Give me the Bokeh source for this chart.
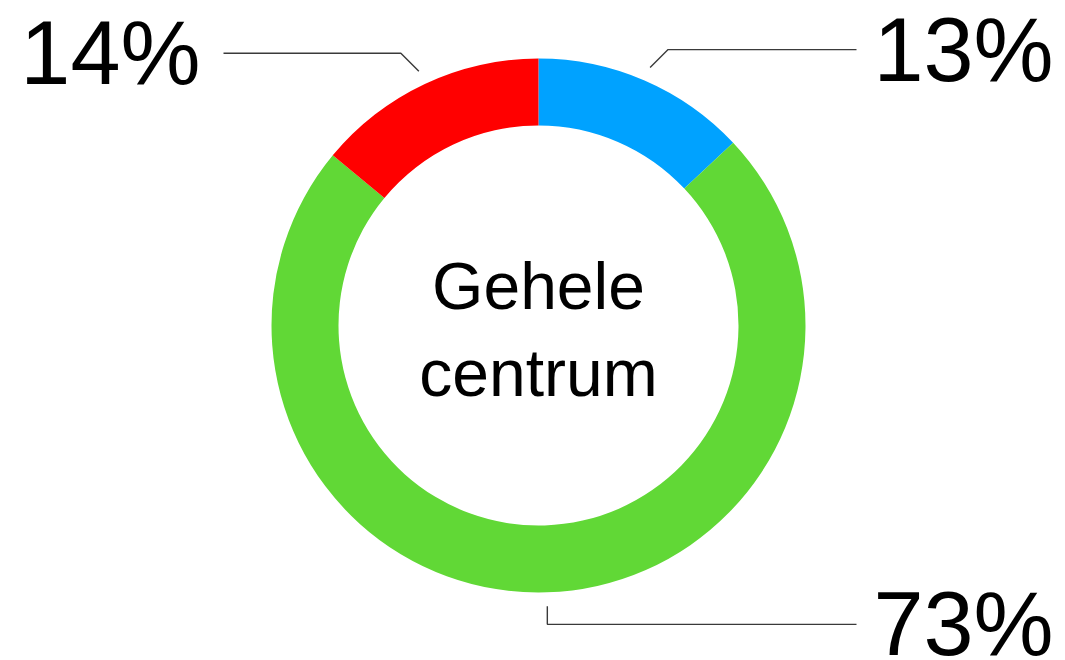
import math
from bokeh.plotting import figure
from bokeh.models import ColumnDataSource
from bokeh.core.properties import value
from bokeh.embed import file_html
from bokeh.resources import INLINE

# ---- data ----
segments = ["Blauw", "Groen", "Rood"]
percentages = [13, 73, 14]
colors = ["#00A2FF", "#61D836", "#FF0000"]
center_lines = ["Gehele", "centrum"]

# ---- layout ----
W, H = 1065, 660
cx, cy = 538, 335
r_in, r_out = 200, 267
r_lead = 281
FONT = "Liberation Sans"

p = figure(width=W, height=H, x_range=(0, W), y_range=(0, H),
           output_backend="svg", toolbar_location=None, min_border=0)
p.axis.visible = False
p.grid.visible = False
p.outline_line_color = None
p.background_fill_color = "white"
p.border_fill_color = "white"

total = sum(percentages)
starts, ends, mids = [], [], []
acc = 0.0
for v in percentages:
    f0 = acc / total
    acc += v
    f1 = acc / total
    starts.append(math.pi / 2 - 2 * math.pi * f0)
    ends.append(math.pi / 2 - 2 * math.pi * f1)
    mids.append((f0 + f1) / 2 * 2 * math.pi)  # clockwise from top

src = ColumnDataSource(dict(x=[cx] * len(percentages), y=[cy] * len(percentages),
                            s=starts, e=ends, c=colors))
p.annular_wedge(x="x", y="y", inner_radius=r_in, outer_radius=r_out,
                start_angle="s", end_angle="e", direction="clock",
                fill_color="c", line_color=None, source=src)

# leaders and labels
for v, m in zip(percentages, mids):
    sx = cx + r_lead * math.sin(m)
    sy = cy + r_lead * math.cos(m)
    dxs = 0 if abs(math.sin(m)) < 0.1 else (1 if math.sin(m) > 0 else -1)
    dys = 1 if math.cos(m) > 0 else -1
    ex = sx + 18 * dxs
    ey = sy + 18 * dys
    right = math.sin(m) >= 0
    hx = 856 if right else 223
    p.line([sx, ex, hx], [sy, ey, ey], line_color="#3a3a3a", line_width=1.4)
    tx = hx + 17 if right else hx - 23
    p.text([tx], [ey], text=[f"{v}%"], text_font=value(FONT),
           text_font_size="90px", text_color="black",
           text_align="left" if right else "right", text_baseline="middle")

# center text
for i, t in enumerate(center_lines):
    p.text([cx], [cy + 40 - 87 * i], text=[t], text_font=value(FONT),
           text_font_size="66px", text_color="black",
           text_align="center", text_baseline="middle")

open("out.html", "w").write(file_html(p, INLINE))
